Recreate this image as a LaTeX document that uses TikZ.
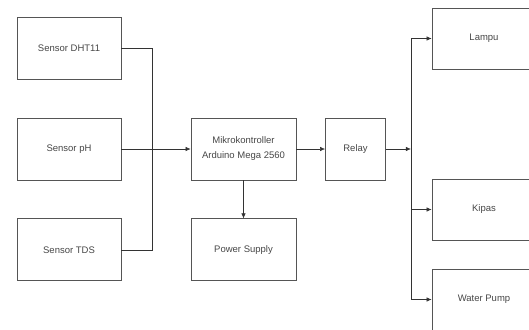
\documentclass[tikz,border=0pt]{standalone}
\usepackage{fontspec}
\setmainfont{Liberation Sans}
\usetikzlibrary{arrows.meta, positioning}

\definecolor{boxline}{RGB}{85,85,85}
\definecolor{txtgray}{RGB}{70,70,70}

\begin{document}
\begin{tikzpicture}
[x=1pt, y=1pt,
   ->/.style={line width=0.6pt, draw=black!80, arrows={-Latex[length=5pt,width=4.5pt]}},
   link/.style={line width=0.6pt, draw=black!80},
   blk/.style={shape=rectangle, draw=boxline, line width=0.8pt, minimum width=104pt,
     minimum height=62pt, inner sep=1pt, align=center, text=txtgray,
     font=\fontsize{9.5}{15}\selectfont}]
\useasboundingbox (0,0) rectangle (529,-329);
% sensors
\node[blk] (pH) at (69,-149) {Sensor pH};
\node[blk] (DHT) [above=38 of pH] {Sensor DHT11};
\node[blk] (TDS) [below=38 of pH] {Sensor TDS};
% controller
\node[blk, minimum width=105pt] (MCU) at (243.5,-149) {Mikrokontroller\\Arduino Mega 2560};
\node[blk, minimum width=105pt] (PSU) [below=38 of MCU] {Power Supply};
\node[blk, minimum width=60pt] (Relay) at (355.5,-149) {Relay};
% outputs
\node[blk, minimum height=61pt] (Lampu) at (484,-38.5) {Lampu};
\node[blk, minimum height=61pt] (Kipas) at (484,-209.5) {Kipas};
\node[blk, minimum height=61pt] (Pump) at (484,-299.5) {Water Pump};
% junctions
\coordinate [right=31 of pH.east] (inJ);
\coordinate [right=25 of Relay.east] (outJ);
\draw [link] (DHT.east) -| (inJ) |- (TDS.east);
\draw [->] (pH) to (MCU);
\draw [->] (MCU) to (PSU);
\draw [->] (MCU) to (Relay);
\draw [->] (Relay) to (outJ);
\draw [->] (outJ) |- (Lampu.west);
\draw [->] (outJ) |- (Kipas.west);
\draw [->] (outJ) |- (Pump.west);
\end{tikzpicture}
\end{document}
